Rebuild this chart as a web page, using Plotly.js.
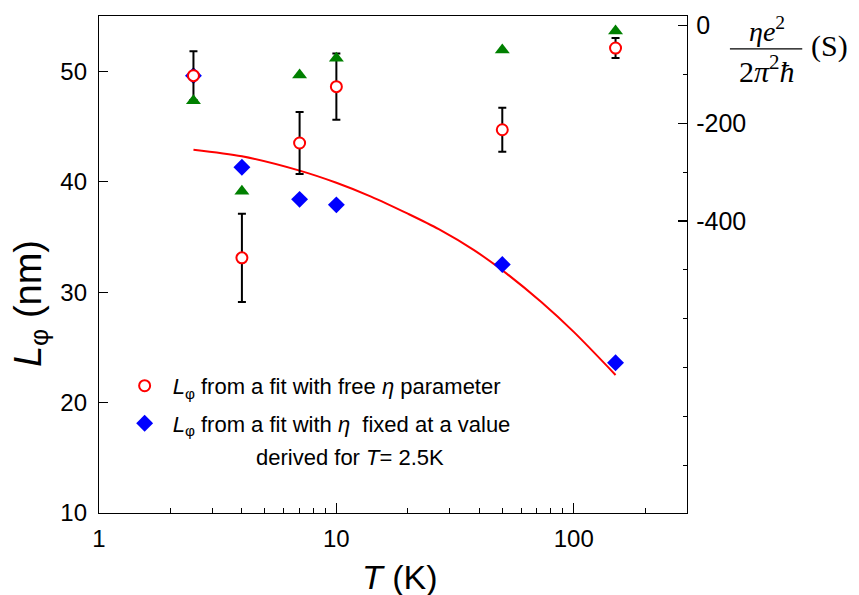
<!DOCTYPE html>
<html>
<head>
<meta charset="utf-8">
<script src="https://cdn.plot.ly/plotly-3.0.1.min.js"></script>
<style>html,body{margin:0;padding:0;background:#fff;}#chart{width:859px;height:595px;}</style>
</head>
<body>
<div id="chart"></div>
<script>
// Data
const T = [2.5, 4, 7, 10, 50, 150];
const L_free = [49.6, 33.1, 43.5, 48.6, 44.7, 52.1];
const L_free_err = [2.2, 4.0, 2.8, 3.0, 2.0, 0.9];
const L_fixed = [49.6, 41.3, 38.4, 37.9, 32.5, 23.6];
const eta = [-154, -339, -101, -67, -50, -11];
const fitT = [2.5, 4, 7, 10, 14, 20, 27, 38, 52, 73, 100, 150];
const fitL = [42.9, 42.3, 41.0, 39.9, 38.65, 37.1, 35.7, 33.8, 31.7, 29.1, 26.4, 22.5];

const xTickVals = [1, 10, 100];
const xTickText = ['1', '10', '100'];
const xMinorVals = [2, 3, 4, 5, 6, 7, 8, 9, 20, 30, 40, 50, 60, 70, 80, 90, 200, 300];
const yTickVals = [10, 20, 30, 40, 50];
const y2TickVals = [0, -200, -400];
const y2TickText = ['0', '-200', '-400'];

const FONT = 'Liberation Sans, Arial, sans-serif';
const SERIF = 'Liberation Serif, Times New Roman, serif';

const traces = [
  {
    x: fitT, y: fitL, type: 'scatter', mode: 'lines',
    line: {color: '#ff0000', width: 2, shape: 'spline', smoothing: 0.8},
    showlegend: false, hoverinfo: 'skip'
  },
  {
    x: T, y: L_fixed, type: 'scatter', mode: 'markers',
    name: '<i>L</i><sub>φ</sub> from a fit with <i>η</i>  fixed at a value',
    marker: {symbol: 'diamond', size: 13, color: '#0000ff'},
    legendgroup: 'b', legendrank: 2
  },
  {
    x: T, y: L_free, type: 'scatter', mode: 'markers',
    name: '<i>L</i><sub>φ</sub> from a fit with free <i>η</i> parameter',
    marker: {symbol: 'circle', size: 11, color: '#ffffff', line: {color: '#ff0000', width: 2}},
    error_y: {type: 'data', array: L_free_err, visible: true, color: '#000000', thickness: 2, width: 4},
    legendgroup: 'a', legendrank: 1
  },
  {
    x: T, y: eta, type: 'scatter', mode: 'markers', yaxis: 'y2',
    marker: {symbol: 'triangle-up', size: 13, color: '#008000'},
    showlegend: false
  }
];

const layout = {
  width: 859, height: 595,
  margin: {l: 99, r: 172, t: 16, b: 82},
  paper_bgcolor: '#ffffff', plot_bgcolor: '#ffffff',
  font: {family: FONT, color: '#000000'},
  showlegend: true,
  legend: {
    x: 0.03, y: 0.298, xanchor: 'left', yanchor: 'top',
    bgcolor: 'rgba(0,0,0,0)', borderwidth: 0,
    font: {family: FONT, size: 22, color: '#000'},
    traceorder: 'grouped', tracegroupgap: 6, itemwidth: 46
  },
  xaxis: {
    type: 'log', range: [0, Math.log10(300)],
    tickmode: 'array', tickvals: xTickVals, ticktext: xTickText,
    ticks: 'inside', ticklen: 10, tickwidth: 1.2, tickcolor: '#000',
    showline: true, linecolor: '#000', linewidth: 1.2, mirror: true,
    showgrid: false, zeroline: false,
    tickfont: {family: FONT, size: 24},
    ticklabelstandoff: 4,
    minor: {tickmode: 'array', tickvals: xMinorVals, ticks: 'inside', ticklen: 5, tickwidth: 1, tickcolor: '#000', showgrid: false}
  },
  yaxis: {
    range: [10, 55],
    tickmode: 'array', tickvals: yTickVals,
    ticks: 'inside', ticklen: 9, tickwidth: 1.2, tickcolor: '#000',
    showline: true, linecolor: '#000', linewidth: 1.2,
    showgrid: false, zeroline: false,
    tickfont: {family: FONT, size: 24},
    ticklabelstandoff: 6
  },
  yaxis2: {
    overlaying: 'y', side: 'right',
    range: [-998, 19.6],
    tickmode: 'array', tickvals: y2TickVals, ticktext: y2TickText,
    ticks: 'inside', ticklen: 9, tickwidth: 1.2, tickcolor: '#000',
    showline: true, linecolor: '#000', linewidth: 1.2,
    showgrid: false, zeroline: false,
    tickfont: {family: FONT, size: 25},
    ticklabelstandoff: 3,
    minor: {tickmode: 'linear', tick0: 0, dtick: 100, ticks: 'inside', ticklen: 4, tickwidth: 1, tickcolor: '#000', showgrid: false}
  },
  annotations: [
    {xref: 'paper', yref: 'paper', x: -0.116, y: 0.422, xanchor: 'center', yanchor: 'middle',
     text: '<i>L</i><sub>φ</sub> (nm)', textangle: -90,
     showarrow: false, font: {family: FONT, size: 38}},
    {xref: 'paper', yref: 'paper', x: 0.512, y: -0.128, xanchor: 'center', yanchor: 'middle',
     text: '<i>T</i> (K)',
     showarrow: false, font: {family: FONT, size: 34}},
    {xref: 'paper', yref: 'paper', x: 0.427, y: 0.111, xanchor: 'center', yanchor: 'middle',
     text: 'derived for <i>T</i>= 2.5K',
     showarrow: false, font: {family: FONT, size: 22}},
    {xref: 'paper', yref: 'paper', x: 1.136, y: 0.972, xanchor: 'center', yanchor: 'middle',
     text: '<i>ηe</i><sup>2</sup>',
     showarrow: false, font: {family: SERIF, size: 28}},
    {xref: 'paper', yref: 'paper', x: 1.136, y: 0.893, xanchor: 'center', yanchor: 'middle',
     text: '2<i>π</i><sup>2</sup><i>ħ</i>',
     showarrow: false, font: {family: SERIF, size: 30}},
    {xref: 'paper', yref: 'paper', x: 1.243, y: 0.94, xanchor: 'center', yanchor: 'middle',
     text: '(S)',
     showarrow: false, font: {family: SERIF, size: 30}}
  ],
  shapes: [
    {type: 'line', xref: 'paper', yref: 'paper', x0: 1.073, x1: 1.196, y0: 0.934, y1: 0.934,
     line: {color: '#000', width: 1.2}}
  ]
};

Plotly.newPlot('chart', traces, layout, {staticPlot: true, displayModeBar: false});
</script>
</body>
</html>
